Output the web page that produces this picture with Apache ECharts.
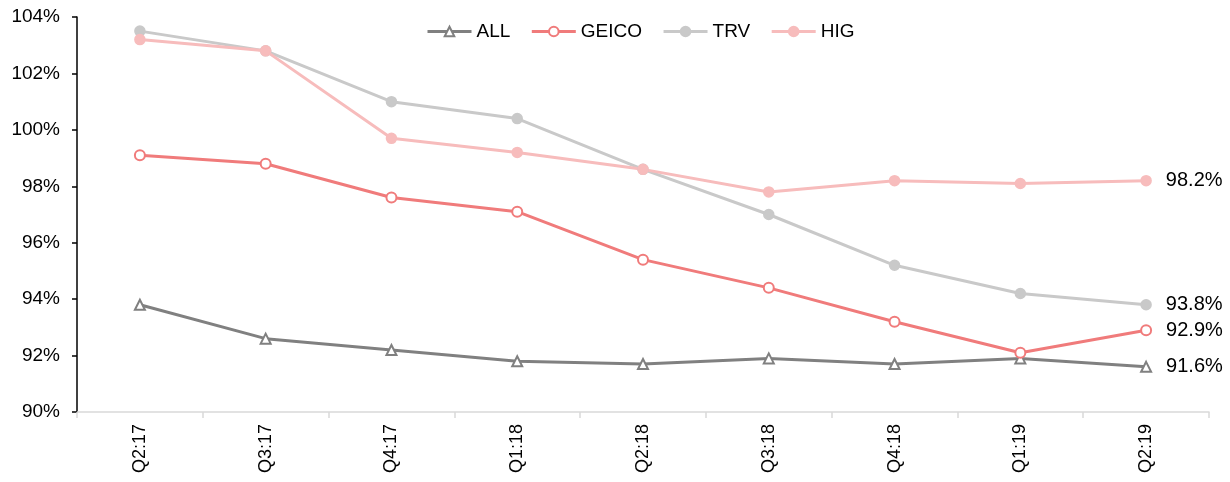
<!DOCTYPE html>
<html>
<head>
<meta charset="utf-8">
<script src="https://cdn.jsdelivr.net/npm/echarts@6/dist/echarts.min.js"></script>
<style>
html,body{margin:0;padding:0;background:#fff;}
#c{width:1230px;height:482px;}
</style>
</head>
<body>
<div id="c"></div>
<script>
const categories = ['Q2:17','Q3:17','Q4:17','Q1:18','Q2:18','Q3:18','Q4:18','Q1:19','Q2:19'];
const allVals   = [93.8, 92.6, 92.2, 91.8, 91.7, 91.9, 91.7, 91.9, 91.6];
const geicoVals = [99.1, 98.8, 97.6, 97.1, 95.4, 94.4, 93.2, 92.1, 92.9];
const trvVals   = [103.5, 102.8, 101.0, 100.4, 98.6, 97.0, 95.2, 94.2, 93.8];
const higVals   = [103.2, 102.8, 99.7, 99.2, 98.6, 97.8, 98.2, 98.1, 98.2];
const yTicks = { min: 90, max: 104, interval: 2 };

const FONT = 'Liberation Sans, Arial, sans-serif';

function mk(name, vals, color, symbol) {
  const last = vals.length - 1;
  return {
    name: name,
    type: 'line',
    data: vals.map((v, i) => i === last ? {
      value: v,
      label: { show: true, position: 'right', distance: 14, formatter: p => p.value.toFixed(1) + '%',
               fontFamily: FONT, fontSize: 20, color: '#000' }
    } : v),
    symbol: symbol,
    symbolSize: 10,
    showAllSymbol: true,
    lineStyle: { color: color, width: 3 },
    itemStyle: { color: color, borderColor: color, borderWidth: 1.5 },
    emphasis: { disabled: true },
    animation: false
  };
}

const chart = echarts.init(document.getElementById('c'), null, { renderer: 'canvas' });
chart.setOption({
  backgroundColor: '#fff',
  animation: false,
  textStyle: { fontFamily: FONT },
  legend: {
    left: 426, top: 22, padding: 0,
    itemWidth: 44, itemHeight: 12, itemGap: 20,
    lineStyle: { width: 3 },
    textStyle: { fontFamily: FONT, fontSize: 19, color: '#000' },
    data: ['ALL', 'GEICO', 'TRV', 'HIG']
  },
  grid: { left: 77, right: 21, top: 17, bottom: 70, containLabel: false },
  xAxis: {
    type: 'category',
    data: categories,
    boundaryGap: true,
    axisLine: { lineStyle: { color: '#d9d9d9', width: 1.5 } },
    axisTick: { show: true, length: 6, lineStyle: { color: '#d9d9d9', width: 1.5 } },
    axisLabel: { rotate: 90, margin: 12, fontFamily: FONT, fontSize: 18, color: '#000' },
    splitLine: { show: false }
  },
  yAxis: {
    type: 'value',
    min: yTicks.min, max: yTicks.max, interval: yTicks.interval,
    axisLine: { show: true, lineStyle: { color: '#000', width: 1.5 } },
    axisTick: { show: true, length: 5, lineStyle: { color: '#000', width: 1.5 } },
    axisLabel: { formatter: '{value}%', margin: 17, fontFamily: FONT, fontSize: 19, color: '#000' },
    splitLine: { show: false }
  },
  series: [
    mk('ALL', allVals, '#808080', 'emptyTriangle'),
    mk('GEICO', geicoVals, '#f07b7b', 'emptyCircle'),
    mk('TRV', trvVals, '#c9c9c9', 'circle'),
    mk('HIG', higVals, '#f7bcbc', 'circle')
  ]
});
</script>
</body>
</html>
